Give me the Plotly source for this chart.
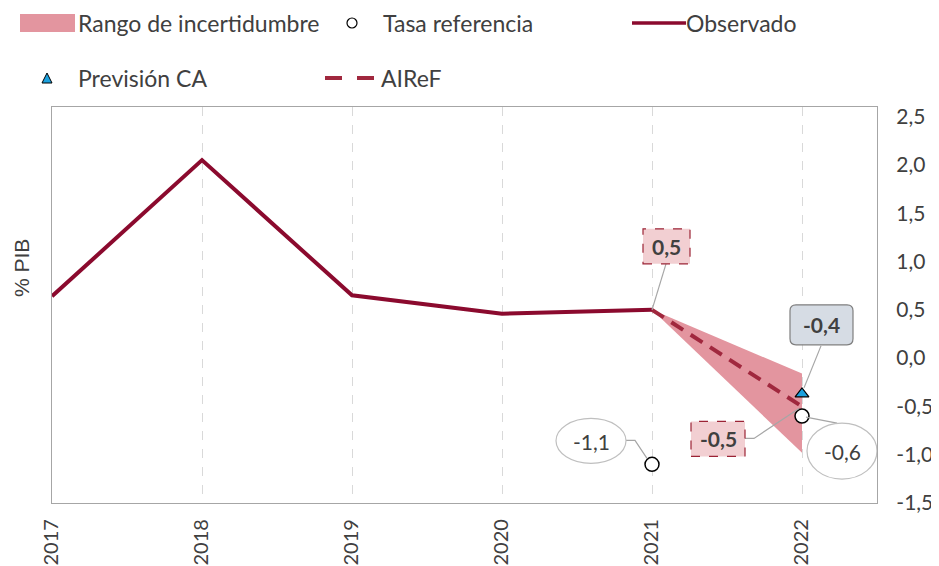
import plotly.graph_objects as go

# ---------------- data ----------------
years = [2017, 2018, 2019, 2020, 2021, 2022]
x_ticklabels = ["2017", "2018", "2019", "2020", "2021", "2022"]

observado_years = [2017, 2018, 2019, 2020, 2021]
observado = [0.64, 2.05, 0.65, 0.46, 0.50]

airef_years = [2021, 2022]
airef = [0.50, -0.50]

banda_years = [2021, 2022]
banda_sup = [0.50, -0.16]
banda_inf = [0.50, -0.98]

ca_years = [2022]
prevision_ca = [-0.37]

ref_years = [2021, 2022]
tasa_ref = [-1.10, -0.60]

y_ticks = [-1.5, -1.0, -0.5, 0.0, 0.5, 1.0, 1.5, 2.0, 2.5]
y_ticklabels = ["-1,5", "-1,0", "-0,5", "0,0", "0,5", "1,0", "1,5", "2,0", "2,5"]

# ---------------- style ----------------
FONT = "Lato, 'Open Sans', sans-serif"
TXT = "#404040"
C_OBS = "#8B0A2E"
C_AIREF = "#A0283E"
C_BAND = "#E3959F"
C_CA = "#1BA1DE"
C_BOX = "#F2CFD2"
C_BOXLINE = "#9B2335"
C_GREY = "#A6A6A6"

OFF = 8  # page body margin of the browser
W, H = 939 - OFF, 566 - OFF
ML, MR, MT, MB = 52 - OFF, 62, 107 - OFF, 63
PW, PH = W - ML - MR, H - MT - MB


def px(xp):
    return (xp - OFF - ML) / PW


def py(yp):
    return (OFF + H - MB - yp) / PH


def fmt(v):
    return f"{v:.1f}".replace(".", ",")


fig = go.Figure()

# uncertainty band
fig.add_trace(go.Scatter(
    x=banda_years + banda_years[::-1],
    y=banda_sup + banda_inf[::-1],
    fill="toself", fillcolor=C_BAND, line=dict(width=0),
    mode="lines", name="Rango de incertidumbre", showlegend=False, hoverinfo="skip"))

fig.add_trace(go.Scatter(
    x=observado_years, y=observado, mode="lines",
    line=dict(color=C_OBS, width=4), name="Observado", showlegend=False))

fig.add_trace(go.Scatter(
    x=airef_years, y=airef, mode="lines",
    line=dict(color=C_AIREF, width=4, dash="14px,9px"), name="AIReF", showlegend=False))

fig.add_trace(go.Scatter(
    x=ref_years, y=tasa_ref, mode="markers",
    marker=dict(symbol="circle", size=14, color="white", line=dict(color="black", width=1.5)),
    name="Tasa referencia", showlegend=False))

fig.add_trace(go.Scatter(
    x=ca_years, y=prevision_ca, mode="markers",
    marker=dict(symbol="triangle-up", size=12, color=C_CA, line=dict(color="black", width=1.2)),
    name="Previsión CA", showlegend=False))

shapes = []
annotations = []


def pix_shape(kind, xa, ya, x0, x1, y0, y1, **kw):
    d = dict(type=kind, xref="x", yref="y", xsizemode="pixel", ysizemode="pixel",
             xanchor=xa, yanchor=ya, x0=x0, x1=x1, y0=y0, y1=y1)
    d.update(kw)
    shapes.append(d)


def pix_path(xa, ya, pts, **kw):
    path = "M" + " L".join(f"{a},{b}" for a, b in pts)
    d = dict(type="path", xref="x", yref="y", xsizemode="pixel", ysizemode="pixel",
             xanchor=xa, yanchor=ya, path=path)
    d.update(kw)
    shapes.append(d)


def label(xa, ya, text, xs, ys, bold=True, size=21):
    annotations.append(dict(
        x=xa, y=ya, xref="x", yref="y", text=f"<b>{text}</b>" if bold else text,
        showarrow=False, xshift=xs, yshift=ys, xanchor="center", yanchor="middle",
        font=dict(family=FONT, size=size, color=TXT)))


# label 0,5 (observado 2021)
x0v, y0v = observado_years[-1], observado[-1]
pix_path(x0v, y0v, [(14, 46), (0, 0)], line=dict(color=C_GREY, width=1.2))
pix_shape("rect", x0v, y0v, -9, 38, 46, 81, fillcolor=C_BOX,
          line=dict(color=C_BOXLINE, width=1.2, dash="dash"))
label(x0v, y0v, fmt(y0v), 14.5, 63.5)

# label -0,4 (Previsión CA) rounded box
xc, yc = ca_years[0], prevision_ca[0]
pix_path(xc, yc, [(19, 48), (2, 6)], line=dict(color=C_GREY, width=1.2))
r = 6
bx0, bx1, by0, by1 = -12, 51, 49, 89
rr = (f"M{bx0+r},{by0} L{bx1-r},{by0} Q{bx1},{by0} {bx1},{by0+r} L{bx1},{by1-r} "
      f"Q{bx1},{by1} {bx1-r},{by1} L{bx0+r},{by1} Q{bx0},{by1} {bx0},{by1-r} "
      f"L{bx0},{by0+r} Q{bx0},{by0} {bx0+r},{by0} Z")
shapes.append(dict(type="path", xref="x", yref="y", xsizemode="pixel", ysizemode="pixel",
                   xanchor=xc, yanchor=yc, path=rr, fillcolor="#D6DCE4",
                   line=dict(color="#7F7F7F", width=1.2)))
label(xc, yc, fmt(yc), 19.5, 69)

# label -0,5 (AIReF 2022)
xa_, ya_ = airef_years[-1], airef[-1]
pix_path(xa_, ya_, [(-57, -32), (-48, -32), (-3, -2)], line=dict(color=C_GREY, width=1.2))
pix_shape("rect", xa_, ya_, -111, -57, -50, -15, fillcolor=C_BOX,
          line=dict(color=C_BOXLINE, width=1.2, dash="dash"))
label(xa_, ya_, fmt(ya_), -84, -32.5)

# label -0,6 (tasa referencia 2022)
xr, yr = ref_years[1], tasa_ref[1]
pix_path(xr, yr, [(4, -1), (35, -7)], line=dict(color=C_GREY, width=1.2))
pix_shape("circle", xr, yr, 5, 75, -63, -7, fillcolor="white",
          line=dict(color="#BFBFBF", width=1.2))
label(xr, yr, fmt(yr), 40, -35, bold=False)

# label -1,1 (tasa referencia 2021)
xr1, yr1 = ref_years[0], tasa_ref[0]
pix_path(xr1, yr1, [(-26, 24), (-17, 24), (-5, 6)], line=dict(color=C_GREY, width=1.2))
pix_shape("circle", xr1, yr1, -96, -26, 1, 46, fillcolor="white",
          line=dict(color="#BFBFBF", width=1.2))
label(xr1, yr1, fmt(yr1), -61, 23, bold=False)

# ---------------- custom legend ----------------
def ptext(xp, yp, text):
    annotations.append(dict(x=px(xp), y=py(yp), xref="paper", yref="paper", text=text,
                            showarrow=False, xanchor="left", yanchor="middle",
                            font=dict(family=FONT, size=23, color=TXT)))


shapes.append(dict(type="rect", xref="paper", yref="paper", x0=px(20), x1=px(75),
                   y0=py(32), y1=py(14), fillcolor=C_BAND, line=dict(width=0)))
ptext(76, 23, "Rango de incertidumbre")
shapes.append(dict(type="circle", xref="paper", yref="paper", x0=px(347), x1=px(357),
                   y0=py(28), y1=py(18), fillcolor="white", line=dict(color="black", width=1.2)))
ptext(381, 23, "Tasa referencia")
shapes.append(dict(type="line", xref="paper", yref="paper", x0=px(632), x1=px(686),
                   y0=py(23), y1=py(23), line=dict(color=C_OBS, width=3.5)))
ptext(684, 23, "Observado")

shapes.append(dict(type="path", xref="paper", yref="paper",
                   path=f"M{px(42)},{py(83)} L{px(52)},{py(83)} L{px(47)},{py(73)} Z",
                   fillcolor=C_CA, line=dict(color="black", width=1)))
ptext(76, 78, "Previsión CA")
for a, b in [(325, 342), (357, 374)]:
    shapes.append(dict(type="line", xref="paper", yref="paper", x0=px(a), x1=px(b),
                       y0=py(78), y1=py(78), line=dict(color=C_AIREF, width=4)))
ptext(379, 78, "AIReF")

# y title
annotations.append(dict(x=px(21), y=py(268), xref="paper", yref="paper", text="% PIB",
                        showarrow=False, textangle=-90, xanchor="center", yanchor="middle",
                        font=dict(family="'Liberation Sans', Arial, sans-serif", size=21, color=TXT)))

fig.update_layout(
    width=W, height=H, autosize=False,
    margin=dict(l=ML, r=MR, t=MT, b=MB, autoexpand=False),
    paper_bgcolor="white", plot_bgcolor="white",
    font=dict(family=FONT, size=20, color=TXT),
    shapes=shapes, annotations=annotations, showlegend=False,
    xaxis=dict(range=[2017, 2022.5], tickmode="array", tickvals=years, ticktext=x_ticklabels,
               tickangle=-90, showgrid=True, gridcolor="#D9D9D9", griddash="dash", gridwidth=1,
               showline=True, mirror=True, linecolor=C_GREY, linewidth=1.3, zeroline=False,
               automargin=False,
               ticks="", ticklabelstandoff=7, tickfont=dict(size=20, color=TXT)),
    yaxis=dict(range=[-1.5, 2.6], side="right", tickmode="array", tickvals=y_ticks,
               ticktext=y_ticklabels, showgrid=False, zeroline=False, showline=True,
               mirror=True, linecolor=C_GREY, linewidth=1.3, ticks="", automargin=False,
               ticklabelstandoff=14, tickfont=dict(size=21, color=TXT)),
)

fig.write_html("out.html")
